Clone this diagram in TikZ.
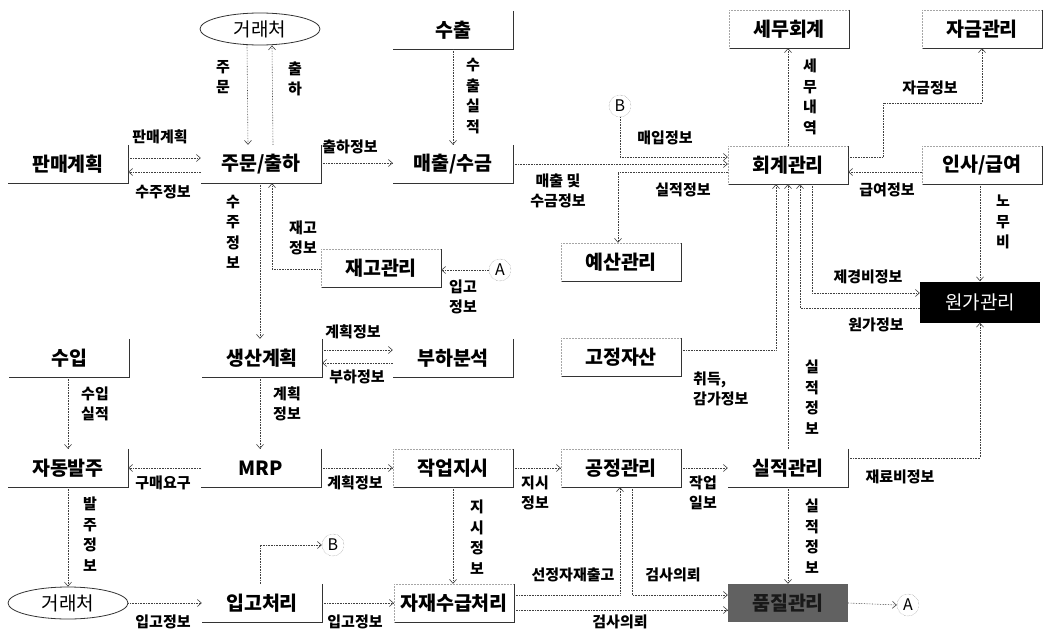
\documentclass[tikz,border=0pt]{standalone}
\usepackage{fontspec}
\setmainfont{Noto Sans CJK KR}
\usetikzlibrary{arrows.meta,shapes.geometric,calc}
\newcommand{\BoxFont}{\fontsize{19.5}{21}\selectfont\bfseries}
\newcommand{\LabFont}{\fontsize{15}{20.5}\selectfont\bfseries}

\begin{document}
\begin{tikzpicture}[x=1pt, y=-1pt,
  unit/.style={minimum width=120pt, minimum height=38pt, inner sep=0pt, font=\BoxFont},
  ext/.style={ellipse, draw=black!80, line width=0.8pt, minimum width=120pt,
    minimum height=32pt, inner sep=0pt, font=\fontsize{19}{20}\selectfont},
  conn/.style={circle, draw=black!55, densely dotted, minimum size=22pt, inner sep=0pt,
    font=\fontsize{16}{16}\selectfont},
  flow/.style={black!75, densely dotted, line width=0.6pt, -{Straight Barb[length=4pt,width=7pt]}},
  lab/.style={font=\LabFont, inner sep=1pt, align=center},
  edge/.style={black!80, line width=0.8pt},
  hint/.style={black!35, densely dotted, line width=0.5pt}]
  \useasboundingbox (0,0) rectangle (1045,632);

  % external parties and connectors
  \node[ext] (cl1) at (260,29) {거래처};
  \node[ext] (cl2) at (68,603) {거래처};
  \node[conn] (At) at (500,270) {A};
  \node[conn] (Ab) at (908,605) {A};
  \node[conn] (Bt) at (620,106) {B};
  \node[conn] (Bb) at (333,545) {B};

  % processes
  \node[unit] (exp) at (453,30) {수출};
  \node[unit] (tax) at (789,29) {세무회계};
  \node[unit] (fund) at (982,29) {자금관리};
  \node[unit] (sp) at (68,164) {판매계획};
  \node[unit] (ord) at (261,164) {주문/출하};
  \node[unit] (sal) at (453,164) {매출/수금};
  \node[unit] (acc) at (788,165) {회계관리};
  \node[unit] (hr) at (982,165) {인사/급여};
  \node[unit] (inv) at (381,268) {재고관리};
  \node[unit] (bud) at (621,262) {예산관리};
  \node[unit, fill=black, text=white, minimum height=41pt, font=\fontsize{19}{20}\selectfont] (cost) at (980,302) {원가관리};
  \node[unit] (imp) at (69,358) {수입};
  \node[unit] (prod) at (262,358) {생산계획};
  \node[unit] (load) at (453,358) {부하분석};
  \node[unit] (fix) at (621,357) {고정자산};
  \node[unit] (auto) at (68,468) {자동발주};
  \node[unit] (mrp) at (261,468) {MRP};
  \node[unit] (wo) at (453,468) {작업지시};
  \node[unit] (pm) at (621,468) {공정관리};
  \node[unit] (perf) at (788,468) {실적관리};
  \node[unit] (rcv) at (262,603) {입고처리};
  \node[unit] (mrs) at (454,603) {자재수급처리};
  \node[unit, fill=black!62, text=black!90] (qc) at (788,603) {품질관리};

  \foreach \n in {exp,tax,fund,sp,ord,sal,acc,hr,inv,bud,imp,prod,load,fix,auto,mrp,wo,pm,perf,rcv,mrs}
    \draw[edge] (\n.north east) -- (\n.south east) -- (\n.south west);
  \foreach \n in {tax,fund,acc,hr,inv,bud,fix,wo,pm,mrs}
    \draw[hint] (\n.south west) -- (\n.north west) -- (\n.north east);

  % flows
  \draw[flow] ([xshift=-13pt]cl1.south) -- ([xshift=-13pt]ord.north);
  \draw[flow] ([xshift=12pt]ord.north) -- ([xshift=12pt]cl1.south);
  \draw[flow] ([yshift=6pt]sp.east) -- ([yshift=6pt]ord.west);
  \draw[flow] ([yshift=-8pt]ord.west) -- ([yshift=-8pt]sp.east);
  \draw[flow] ([yshift=1pt]ord.east) -- ([yshift=1pt]sal.west);
  \draw[flow] (exp.south) -- (sal.north);
  \draw[flow] (sal.east) -- (sal.east -| acc.west);
  \draw[flow] (Bt.south) |- ([yshift=8pt]acc.west);
  \draw[flow] ([yshift=-7pt]acc.west) -| ([xshift=-3pt]bud.north);
  \draw[flow] (acc.north) -- (acc.north |- tax.south);
  \draw[flow] ([yshift=8pt]acc.east) -- ++(35,0) -- ++(0,-54) -| (fund.south);
  \draw[flow] ([yshift=-7pt]hr.west) -- ([yshift=-7pt]acc.east);
  \draw[flow] (cost.north |- hr.south) -- (cost.north);
  \draw[flow] ([xshift=24pt]acc.south) |- ([yshift=9pt]cost.west);
  \draw[flow] ([yshift=-6pt]cost.west) -| ([xshift=12pt]acc.south);
  \draw[flow] (perf.north) -- (perf.north |- acc.south);
  \draw[flow] ([yshift=7pt]fix.east) -| ([xshift=-12pt]acc.south);
  \draw[flow] ([yshift=-1pt]inv.west) -| ([xshift=11pt]ord.south);
  \draw[flow] (At.west) -- (At.west -| inv.east);
  \draw[flow] ([xshift=-1pt]ord.south) -- ([xshift=-1pt]ord.south |- prod.north);
  \draw[flow] ([yshift=8pt]prod.east) -- ([yshift=8pt]prod.east -| load.west);
  \draw[flow] ([yshift=-5pt]load.west) -- ([yshift=-5pt]load.west -| prod.east);
  \draw[flow] (imp.south -| auto.north) -- (auto.north);
  \draw[flow] ([xshift=-2pt]prod.south) -- ([xshift=-2pt]prod.south |- mrp.north);
  \draw[flow] (mrp.west) -- (auto.east);
  \draw[flow] (mrp.east) -- (wo.west);
  \draw[flow] (wo.east) -- (pm.west);
  \draw[flow] (wo.south) -- (wo.south |- mrs.north);
  \draw[flow] (pm.east) -- (perf.west);
  \draw[flow] ([yshift=10pt]perf.east) -| (cost.south);
  \draw[flow] (perf.south) -- (qc.north);
  \draw[flow] (auto.south) -- (cl2.north);
  \draw[flow] (cl2.east) -- (rcv.west);
  \draw[flow] ([xshift=-2pt]rcv.north) |- (Bb.west);
  \draw[flow] (rcv.east) -- (mrs.west);
  \draw[flow] ([yshift=8pt]mrs.east) -| ([xshift=-1pt]pm.south);
  \draw[flow] ([xshift=11pt]pm.south) |- ([yshift=8pt]qc.west);
  \draw[flow] ([yshift=-7pt]mrs.east) -- ([yshift=-7pt]qc.west);
  \draw[flow] (qc.east) -- (Ab.west);

  % labels
  \node[lab] (l1) at (223,77) {주\\문};
  \node[lab] (l2) at (295,79) {출\\하};
  \node[lab] (l3) at (160,137) {판매계획};
  \node[lab] (l4) at (163,192) {수주정보};
  \node[lab] (l5) at (350,147) {출하정보};
  \node[lab] (l6) at (473,96) {수\\출\\실\\적};
  \node[lab] (l7) at (558,191) {매출 및\\수금정보};
  \node[lab] (l8) at (665,138) {매입정보};
  \node[lab] (l9) at (683,190) {실적정보};
  \node[lab] (l10) at (810,97) {세\\무\\내\\역};
  \node[lab] (l11) at (930,88) {자금정보};
  \node[lab] (l12) at (887,190) {급여정보};
  \node[lab] (l13) at (1003,222) {노\\무\\비};
  \node[lab] (l14) at (868,277) {제경비정보};
  \node[lab] (l15) at (876,325) {원가정보};
  \node[lab] (l16) at (812,397) {실\\적\\정\\보};
  \node[lab, align=left, anchor=west] (l17) at (692,389) {취득,\\감가정보};
  \node[lab] (l18) at (303,238) {재고\\정보};
  \node[lab] (l19) at (463,297) {입고\\정보};
  \node[lab] (l20) at (233,232) {수\\주\\정\\보};
  \node[lab] (l21) at (353,332) {계획정보};
  \node[lab] (l22) at (357,377) {부하정보};
  \node[lab] (l23) at (95,404) {수입\\실적};
  \node[lab] (l24) at (287,404) {계획\\정보};
  \node[lab] (l25) at (163,483) {구매요구};
  \node[lab] (l26) at (355,483) {계획정보};
  \node[lab] (l27) at (535,493) {지시\\정보};
  \node[lab] (l28) at (477,537) {지\\시\\정\\보};
  \node[lab] (l29) at (703,493) {작업\\일보};
  \node[lab] (l30) at (900,477) {재료비정보};
  \node[lab] (l31) at (812,536) {실\\적\\정\\보};
  \node[lab] (l32) at (90,534) {발\\주\\정\\보};
  \node[lab] (l33) at (163,622) {입고정보};
  \node[lab] (l34) at (355,622) {입고정보};
  \node[lab] (l35) at (573,575) {선정자재출고};
  \node[lab] (l36) at (673,575) {검사의뢰};
  \node[lab] (l37) at (620,622) {검사의뢰};
\end{tikzpicture}
\end{document}
